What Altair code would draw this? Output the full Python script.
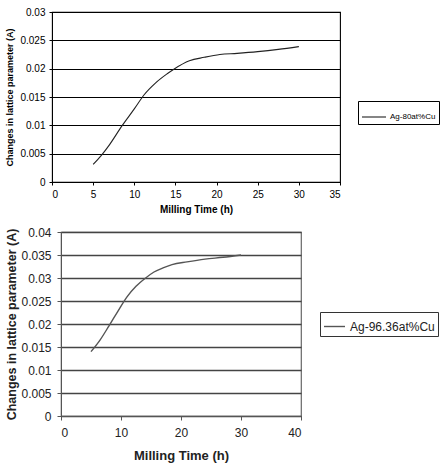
import altair as alt
import pandas as pd

FONT = "Liberation Sans"

# Ag-80at%Cu: change in lattice parameter vs milling time
t_80 = [5, 6, 7, 8.5, 10, 11.2, 12.6, 14, 14.9, 16.7, 18.5, 20.4, 22.5, 25, 27.5, 30]
d_80 = [0.0031, 0.0047, 0.0066, 0.0099, 0.0129, 0.0154, 0.0175, 0.0191,
        0.0200, 0.0214, 0.0220, 0.0225, 0.0227, 0.0230, 0.0234, 0.0239]

# Ag-96.36at%Cu
t_96 = [5, 6.5, 8, 9.5, 11, 12.5, 14, 15.5, 17, 18.5, 21, 24, 27, 30]
d_96 = [0.0140, 0.0165, 0.0196, 0.0228, 0.0259, 0.0282, 0.0299, 0.0313,
        0.0322, 0.0329, 0.0335, 0.0341, 0.0345, 0.0350]

x_ticks_top = [0, 5, 10, 15, 20, 25, 30, 35]
y_ticks_top = [0, 0.005, 0.01, 0.015, 0.02, 0.025, 0.03]
x_ticks_bot = [0, 10, 20, 30, 40]
y_ticks_bot = [0, 0.005, 0.01, 0.015, 0.02, 0.025, 0.03, 0.035, 0.04]

x_title = "Milling Time (h)"
y_title = "Changes in lattice parameter (A)"

df_top = pd.DataFrame({"t": t_80, "d": d_80, "s": "Ag-80at%Cu"})
df_bot = pd.DataFrame({"t": t_96, "d": d_96, "s": "Ag-96.36at%Cu"})

top = alt.Chart(df_top).mark_line(strokeWidth=1.1, interpolate="monotone").encode(
    x=alt.X("t:Q", scale=alt.Scale(domain=[0, 35], nice=False),
            axis=alt.Axis(values=x_ticks_top, title=x_title, grid=False,
                          domainColor="black", tickColor="black", tickSize=3,
                          labelFont=FONT, labelFontSize=10, labelColor="black",
                          labelPadding=4, titleFont=FONT, titleFontSize=10,
                          titleFontWeight="bold", titleColor="black", titlePadding=5)),
    y=alt.Y("d:Q", scale=alt.Scale(domain=[0, 0.03], nice=False),
            axis=alt.Axis(values=y_ticks_top, title=y_title, grid=True,
                          gridColor="black", gridWidth=1.1,
                          labelExpr="'' + datum.value",
                          domainColor="black", tickColor="black", tickSize=3,
                          labelFont=FONT, labelFontSize=10, labelColor="black",
                          labelPadding=4, titleFont=FONT, titleFontSize=9,
                          titleFontWeight="bold", titleColor="black", titlePadding=5)),
    color=alt.Color("s:N", scale=alt.Scale(range=["#222222"]),
                    legend=alt.Legend(title=None, orient="none", legendX=306, legendY=89,
                                      symbolType="stroke", symbolSize=576,
                                      symbolStrokeWidth=1.1, labelFont=FONT,
                                      labelFontSize=8, labelColor="black", labelOffset=3,
                                      padding=3, strokeColor="black", fillColor="white")),
).properties(width=288, height=170,
             view=alt.ViewBackground(stroke="black", strokeWidth=1.1))

bot = alt.Chart(df_bot).mark_line(strokeWidth=1.4, interpolate="monotone").encode(
    x=alt.X("t:Q", scale=alt.Scale(domain=[0, 40], nice=False),
            axis=alt.Axis(values=x_ticks_bot, title=x_title, grid=False,
                          domainColor="#555555", tickColor="#555555", tickSize=4,
                          labelFont=FONT, labelFontSize=12, labelColor="#222222",
                          labelPadding=7, titleFont=FONT, titleFontSize=13,
                          titleFontWeight="bold", titleColor="#222222", titlePadding=11)),
    y=alt.Y("d:Q", scale=alt.Scale(domain=[0, 0.04], nice=False),
            axis=alt.Axis(values=y_ticks_bot, title=y_title, grid=True,
                          gridColor="#444444", gridWidth=1.5,
                          labelExpr="'' + datum.value",
                          domainColor="#555555", tickColor="#555555", tickSize=4,
                          labelFont=FONT, labelFontSize=12, labelColor="#222222",
                          labelPadding=6, titleFont=FONT, titleFontSize=12.5,
                          titleFontWeight="bold", titleColor="#222222", titlePadding=2)),
    color=alt.Color("s:N", scale=alt.Scale(range=["#555555"]),
                    legend=alt.Legend(title=None, orient="none", legendX=259, legendY=80,
                                      symbolType="stroke", symbolSize=441,
                                      symbolStrokeWidth=1.4, labelFont=FONT,
                                      labelFontSize=12, labelColor="#222222", labelOffset=4,
                                      padding=3, strokeColor="#333333", fillColor="white")),
).properties(width=240, height=184,
             view=alt.ViewBackground(stroke="#666666", strokeWidth=1.2))

# narrow blank column so that each panel is offset by its own axis extent
spacer = alt.Chart(pd.DataFrame({"v": [0]})).mark_point(opacity=0, size=0).encode(
    x=alt.X("v:Q", axis=None), y=alt.Y("v:Q", axis=None)
).properties(width=1, height=1, view=alt.ViewBackground(stroke=None))

chart = alt.concat(
    spacer, top, spacer, bot, columns=2, align="none",
    spacing=alt.RowColnumber(row=10, column=0),
).resolve_scale(color="independent").resolve_legend(color="independent").properties(
    padding={"left": 4, "top": 6, "right": 0, "bottom": 0},
    background="white",
)

chart.save("out.html", embed_options={"renderer": "svg", "actions": False})
